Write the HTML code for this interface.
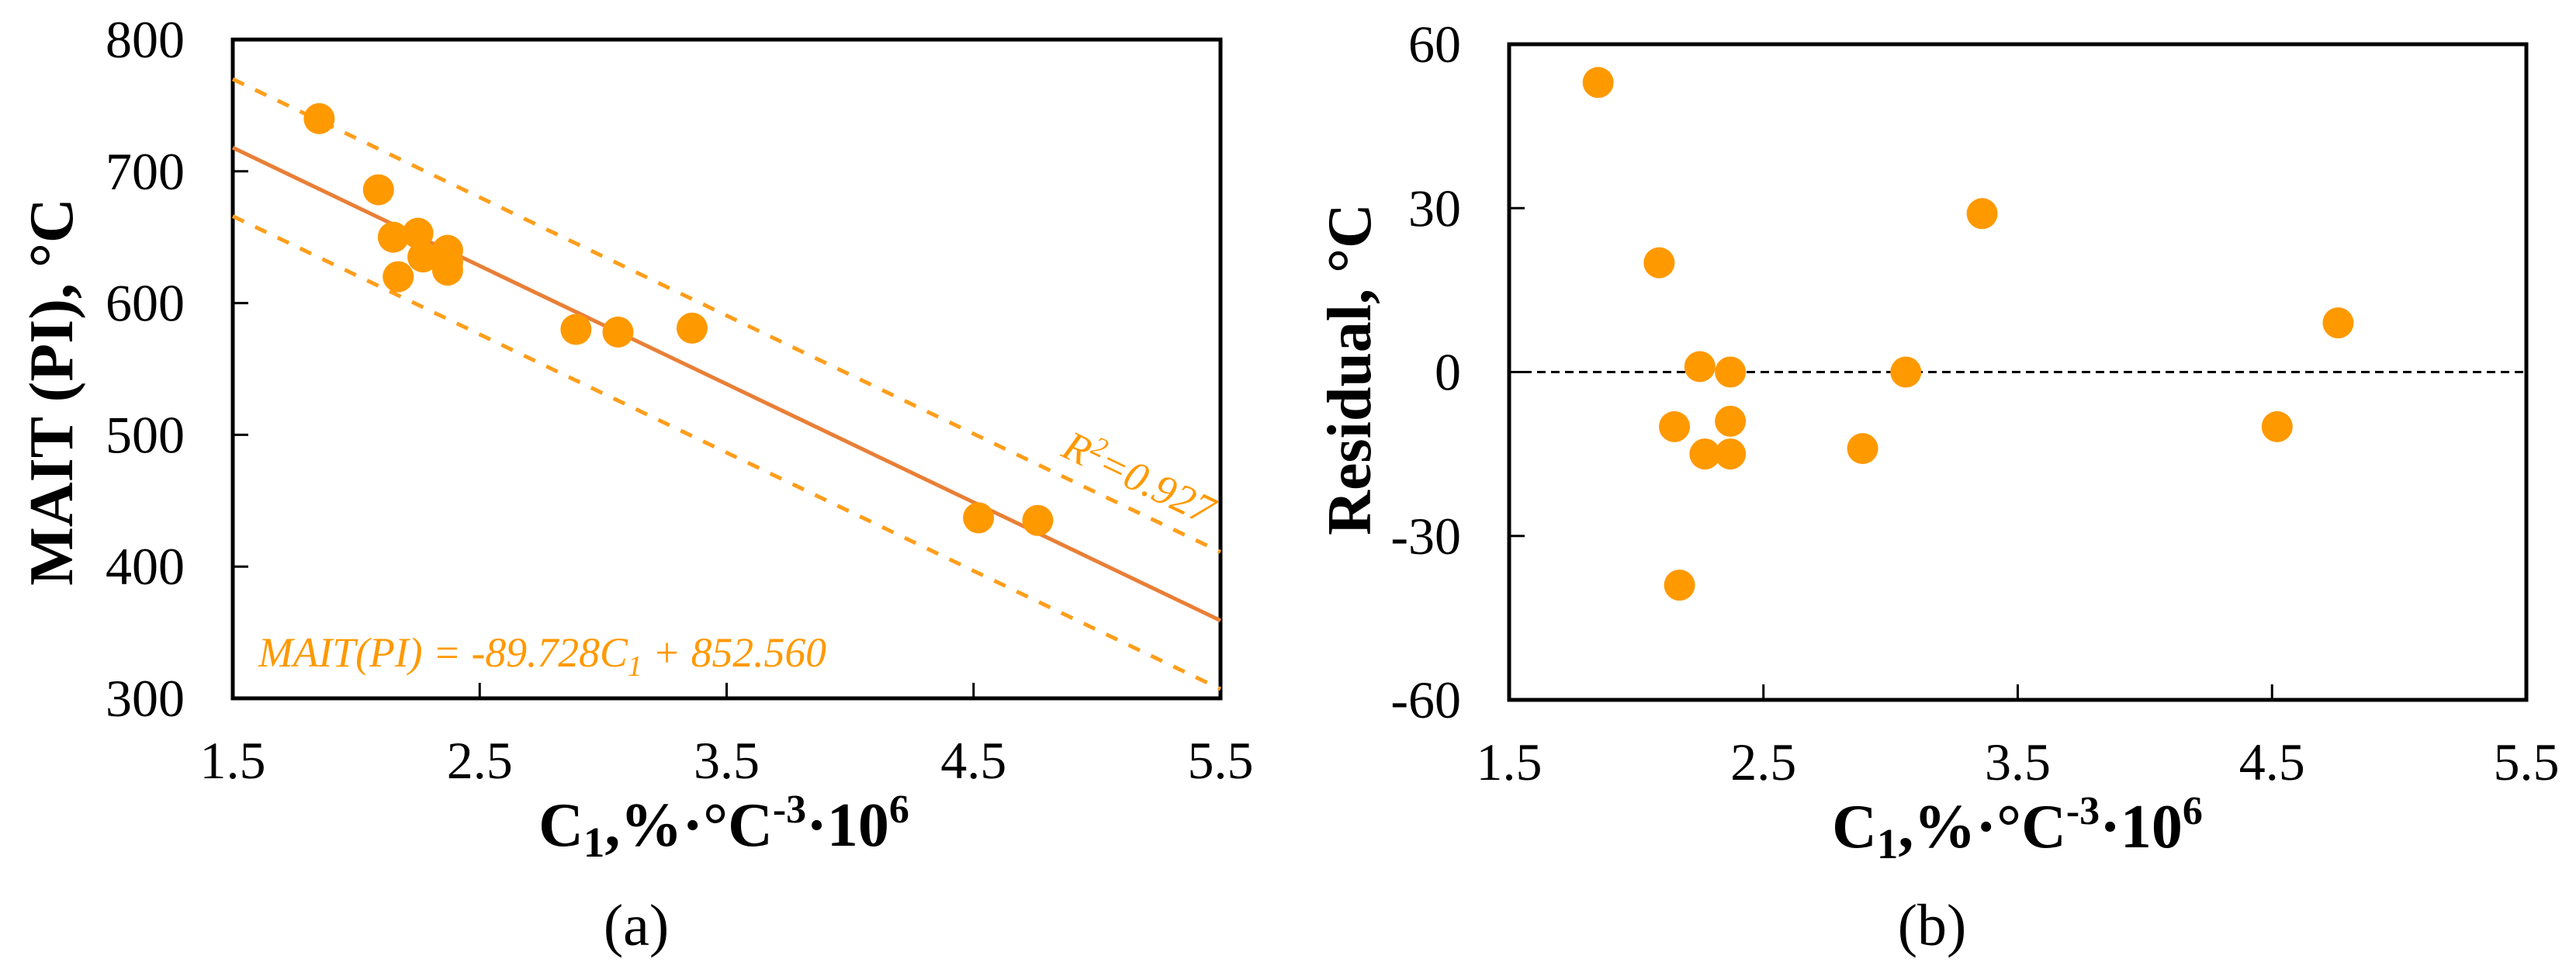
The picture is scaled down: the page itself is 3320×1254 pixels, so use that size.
<!DOCTYPE html>
<html><head><meta charset="utf-8"><style>
html,body{margin:0;padding:0;background:#fff;}
svg, svg text{font-family:"Liberation Serif","Times New Roman","DejaVu Serif",serif;}
svg{display:block;}
</style></head><body>
<svg id="fig" width="3320" height="1254" viewBox="0 0 3320 1254" font-family="Liberation Serif, Times New Roman, DejaVu Serif, serif">
<rect width="3320" height="1254" fill="#fff"/>
<g id="pa"></g>
<g id="pb"></g>
</svg>
<script>
const xVals = [1.85, 2.09, 2.15, 2.17, 2.25, 2.27, 2.37, 2.37, 2.37, 2.89, 3.06, 3.36, 4.52, 4.76];
const maitVals = [740, 686, 650, 620, 653, 635, 640, 631, 625, 580, 578, 581, 437, 435];
const residVals = [53, 20, -10, -39, 1, -15, 0, -9, -15, -14, 0, 29, -10, 9];
const xTicks = [1.5, 2.5, 3.5, 4.5, 5.5];
const yTicksA = [300, 400, 500, 600, 700, 800];
const yTicksB = [-60, -30, 0, 30, 60];
const fitSlope = -89.728, fitIntercept = 852.560, bandOffset = 52;

const NS = "http://www.w3.org/2000/svg";
const FF = '"Liberation Serif", "Times New Roman", "DejaVu Serif", serif';
function mk(parent, tag, attrs, text){
  const e = document.createElementNS(NS, tag);
  for (const k in attrs) e.setAttribute(k, attrs[k]);
  if (tag === "text") e.style.fontFamily = FF;
  if (text !== undefined) e.textContent = text;
  parent.appendChild(e);
  return e;
}

function axes(g, L, R, T, B, xmin, xmax, ymin, ymax, yTicks, prefix){
  const sx = v => L + (v - xmin) / (xmax - xmin) * (R - L);
  const sy = v => B - (v - ymin) / (ymax - ymin) * (B - T);
  const fr = mk(g, "rect", {x:L, y:T, width:R-L, height:B-T, fill:"none", stroke:"#000", "stroke-width":5});
  
  
  xTicks.forEach(v => {
    const t = mk(g, "line", {x1:sx(v), x2:sx(v), y1:B, y2:B-20, stroke:"#000", "stroke-width":3});
    
    
    const l = mk(g, "text", {x:sx(v), y:B+103, "font-size":68, "text-anchor":"middle"}, v.toFixed(1));
    
    
  });
  yTicks.forEach(v => {
    const t = mk(g, "line", {x1:L, x2:L+20, y1:sy(v), y2:sy(v), stroke:"#000", "stroke-width":3});
    
    
    const l = mk(g, "text", {x:L-62, y:sy(v)+23, "font-size":68, "text-anchor":"end"}, String(v));
    
    
  });
  return {sx, sy};
}

function xTitle(g, cx, y, prefix){
  const t = mk(g, "text", {x:cx, y:y, "font-size":80, "font-weight":"bold", "text-anchor":"middle"});
  
  
  t.innerHTML = 'C<tspan font-size="55" dy="14">1</tspan><tspan dy="-14">,%·°C</tspan><tspan font-size="52" dy="-30">-3</tspan><tspan dy="30">·10</tspan><tspan font-size="52" dy="-30">6</tspan>';
}

// Panel A
const ga = document.getElementById("pa");
const A = axes(ga, 300, 1573, 51, 900, 1.5, 5.5, 300, 800, yTicksA, "a");
const lines = [
  {off:0, color:"#E97F36", dash:null, name:"fit-line"},
  {off:bandOffset, color:"#FF9E1B", dash:"16 16", name:"upper-band-line"},
  {off:-bandOffset, color:"#FF9E1B", dash:"16 16", name:"lower-band-line"}
];
lines.forEach(o => {
  const a = {x1:A.sx(1.5), y1:A.sy(fitSlope*1.5+fitIntercept+o.off), x2:A.sx(5.5), y2:A.sy(fitSlope*5.5+fitIntercept+o.off), stroke:o.color, "stroke-width":5};
  if (o.dash) a["stroke-dasharray"] = o.dash;
  const l = mk(ga, "line", a);
  
  
});
xVals.forEach((x,i) => {
  const c = mk(ga, "circle", {cx:A.sx(x), cy:A.sy(maitVals[i]), r:20, fill:"#FF9900"});
  
  
});
const eq = mk(ga, "text", {x:333, y:859, "font-size":54, "font-style":"italic", fill:"#FF9900", textLength:732, lengthAdjust:"spacingAndGlyphs"});


eq.innerHTML = 'MAIT(PI) = -89.728C<tspan font-size="38" dy="12">1</tspan><tspan dy="-12"> + 852.560</tspan>';
const r2 = mk(ga, "text", {x:0, y:0, "font-size":54, "font-style":"italic", fill:"#FF9900", "text-anchor":"middle", transform:"translate(1460,632) rotate(25.6)"});


r2.innerHTML = 'R<tspan font-size="36" dy="-20">2</tspan><tspan dy="20">=0.927</tspan>';
const yta = mk(ga, "text", {x:0, y:0, "font-size":80, "font-weight":"bold", "text-anchor":"middle", transform:"translate(93,505) rotate(-90)"}, "MAIT (PI), °C");


xTitle(ga, 933, 1090, "a");
const la = mk(ga, "text", {x:820, y:1218, "font-size":76, "text-anchor":"middle"}, "(a)");



// Panel B
const gb = document.getElementById("pb");
const Bx = axes(gb, 1945, 3256, 57, 902, 1.5, 5.5, -60, 60, yTicksB, "b");
const zl = mk(gb, "line", {x1:Bx.sx(1.5), x2:Bx.sx(5.5), y1:Bx.sy(0), y2:Bx.sy(0), stroke:"#000", "stroke-width":3, "stroke-dasharray":"11 7"});


xVals.forEach((x,i) => {
  const c = mk(gb, "circle", {cx:Bx.sx(x), cy:Bx.sy(residVals[i]), r:20, fill:"#FF9900"});
  
  
});
const ytb = mk(gb, "text", {x:0, y:0, "font-size":80, "font-weight":"bold", "text-anchor":"middle", transform:"translate(1766,476) rotate(-90)"}, "Residual, °C");


xTitle(gb, 2600, 1092, "b");
const lb = mk(gb, "text", {x:2490, y:1218, "font-size":76, "text-anchor":"middle"}, "(b)");


</script>
</body></html>
